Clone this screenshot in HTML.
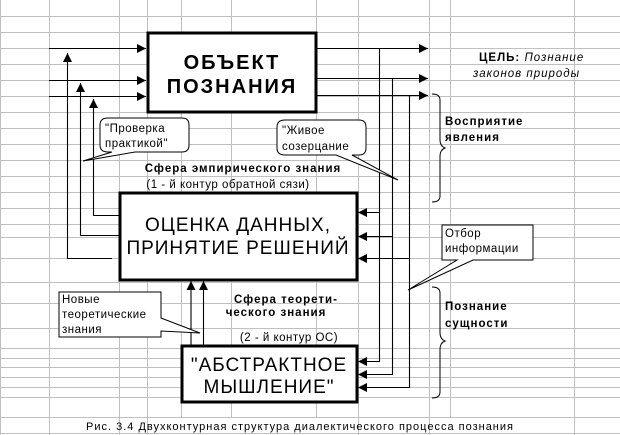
<!DOCTYPE html>
<html><head><meta charset="utf-8"><style>
body{margin:0;background:#fff;}
svg{display:block;font-family:"Liberation Sans",Arial,sans-serif;}
</style></head><body>
<svg width="620" height="435" viewBox="0 0 620 435" xmlns="http://www.w3.org/2000/svg">
<defs>
<marker id="a" viewBox="0 0 10 10" refX="10" refY="5" markerWidth="9" markerHeight="9" markerUnits="userSpaceOnUse" orient="auto"><path d="M0,0 L10,5 L0,10 z" fill="#000"/></marker>
</defs>
<g stroke="#c0c0c0" stroke-width="1">
<path d="M0,16.5H620M0,32.5H620M0,48.5H620M0,64.5H620M0,80.5H620M0,96.5H620M0,112.5H620M0,128.5H620M0,144.5H620M0,160.5H620M0,176.5H620M0,192.5H620M0,208.5H620M0,224.5H620M0,237.5H620M0,258.5H620M0,282.5H620M0,303.5H620M0,328.5H620M0,348.5H620M0,358.5H620M0,367.5H620M0,377.5H620M0,387.5H620M0,397.5H620M0,417.5H620M0,433.5H620"/>
<path d="M49.5,0V435M119.5,0V435M147.5,0V435M181.5,0V417M231.5,0V417M316.5,0V417M358.5,0V435M429.5,0V435M450.5,0V417M574.5,0V435M0.5,0V435"/>
</g>
<rect x="148" y="33" width="168" height="79" fill="#fff" stroke="#000" stroke-width="3"/>
<rect x="120" y="193" width="237" height="87" fill="#fff" stroke="#000" stroke-width="3"/>
<rect x="182" y="346" width="175" height="56" fill="#fff" stroke="#000" stroke-width="3"/>
<text x="232" y="69" font-size="20" font-weight="bold" text-anchor="middle" letter-spacing="2">ОБЪЕКТ</text>
<text x="232" y="93" font-size="20" font-weight="bold" text-anchor="middle" letter-spacing="2">ПОЗНАНИЯ</text>
<text x="238" y="231" font-size="19" text-anchor="middle" letter-spacing="1">ОЦЕНКА ДАННЫХ,</text>
<text x="238" y="254" font-size="19" text-anchor="middle" letter-spacing="1">ПРИНЯТИЕ РЕШЕНИЙ</text>
<text x="269" y="371" font-size="19" text-anchor="middle" letter-spacing="1">"АБСТРАКТНОЕ</text>
<text x="269" y="393" font-size="19" text-anchor="middle" letter-spacing="1">МЫШЛЕНИЕ"</text>
<g stroke="#000" stroke-width="1.1" fill="none">
<line x1="49" y1="48.5" x2="146" y2="48.5" marker-end="url(#a)"/>
<line x1="49" y1="80.5" x2="146" y2="80.5" marker-end="url(#a)"/>
<line x1="49" y1="96.5" x2="146" y2="96.5" marker-end="url(#a)"/>
<path d="M112,258.5H67.5V53" marker-end="url(#a)"/>
<path d="M119,235.5H80.5V83" marker-end="url(#a)"/>
<path d="M119,215.5H93.5V99" marker-end="url(#a)"/>
<line x1="316" y1="48.5" x2="428" y2="48.5" marker-end="url(#a)"/>
<line x1="316" y1="78.5" x2="428" y2="78.5" marker-end="url(#a)"/>
<line x1="316" y1="95.5" x2="428" y2="95.5" marker-end="url(#a)"/>
<path d="M379.5,48.5V361.5H358" marker-end="url(#a)"/>
<path d="M392.5,78.5V374.5H358" marker-end="url(#a)"/>
<path d="M409.5,95.5V387.5H358" marker-end="url(#a)"/>
<path d="M379.5,212.5H358" marker-end="url(#a)"/>
<path d="M392.5,236.5H358" marker-end="url(#a)"/>
<path d="M409.5,258.5H358" marker-end="url(#a)"/>
<line x1="191" y1="346" x2="191" y2="281" marker-end="url(#a)"/>
<line x1="203.5" y1="346" x2="203.5" y2="281" marker-end="url(#a)"/>
<path d="M432,94 Q440,94 440,100 V140 Q440,146 445,148 Q440,150 440,156 V196 Q440,202 432,202" stroke-width="1"/>
<path d="M432,287 Q440,287 440,293 V333 Q440,339 445,341 Q440,343 440,349 V392 Q440,398 432,398" stroke-width="1"/>
</g>
<g stroke="#000" stroke-width="1" fill="#fff">
<path d="M108,118 H182 Q189,118 189,125 V145 Q189,152 182,152 H135 L83,161 L112,152 H108 Q100,152 100,145 V125 Q100,118 108,118 Z"/>
<path d="M285,120 H359 Q366,120 366,127 V148 Q366,155 359,155 H352 L398,180 L336,155 H285 Q277,155 277,148 V127 Q277,120 285,120 Z"/>
<path d="M442,225 H533 V260 H473 L408,290 L457,260 H442 Z"/>
<path d="M59,292 H161 V318 L200,333 L161,331 V337 H59 Z"/>
</g>
<g font-size="11.5" fill="#000" letter-spacing="0.5">
<text x="105" y="132">"Проверка</text>
<text x="105" y="147">практикой"</text>
<text x="282" y="134">"Живое</text>
<text x="282" y="150">созерцание</text>
<text x="445" y="237">Отбор</text>
<text x="445" y="252">информации</text>
<text x="62" y="303">Новые</text>
<text x="62" y="318">теоретические</text>
<text x="62" y="333">знания</text>
</g>
<g font-size="11.5" font-weight="bold" fill="#000" letter-spacing="1">
<text x="243" y="172" text-anchor="middle">Сфера эмпирического знания</text>
<text x="286" y="303" text-anchor="middle">Сфера теорети-</text>
<text x="276" y="316" text-anchor="middle">ческого знания</text>
<text x="445" y="125">Восприятие</text>
<text x="445" y="141">явления</text>
<text x="445" y="310">Познание</text>
<text x="445" y="327">сущности</text>
<text x="479" y="61">ЦЕЛЬ: <tspan font-style="italic" font-weight="normal">Познание</tspan></text>
<text x="473" y="77" font-style="italic" font-weight="normal">законов природы</text>
</g>
<g font-size="11.5" fill="#000" letter-spacing="0.5">
<text x="228" y="188" text-anchor="middle">(1 - й контур обратной сязи)</text>
<text x="289" y="341" text-anchor="middle">(2 - й контур ОС)</text>
<text x="86" y="430" font-size="11" letter-spacing="1">Рис. 3.4  Двухконтурная структура диалектического процесса познания</text>
</g>
</svg>
</body></html>
